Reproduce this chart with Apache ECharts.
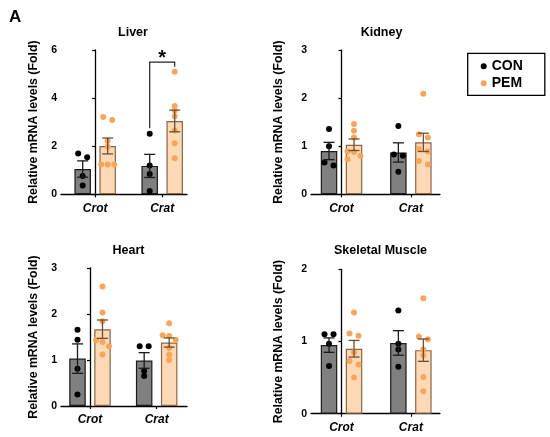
<!DOCTYPE html>
<html>
<head>
<meta charset="utf-8">
<script src="https://cdn.jsdelivr.net/npm/echarts@6/dist/echarts.min.js"></script>
<style>
  html, body { margin: 0; padding: 0; background: #fff; }
  #chart { width: 550px; height: 437px; }
</style>
</head>
<body>
<div id="chart"></div>
<script>
var genes = ['Crot', 'Crat'];
var tissues = ['Liver', 'Kidney', 'Heart', 'Skeletal Muscle'];
var groups = ['CON', 'PEM'];

// bar height (mean) and SEM per gene [Crot, Crat]
var liverConMean = [1.05, 1.18];
var liverConSem = [0.34, 0.48];
var liverPemMean = [2.01, 3.05];
var liverPemSem = [0.33, 0.45];
var kidneyConMean = [0.90, 0.87];
var kidneyConSem = [0.18, 0.20];
var kidneyPemMean = [1.03, 1.08];
var kidneyPemSem = [0.12, 0.19];
var heartConMean = [1.03, 0.99];
var heartConSem = [0.32, 0.17];
var heartPemMean = [1.67, 1.38];
var heartPemSem = [0.20, 0.10];
var muscleConMean = [0.95, 0.98];
var muscleConSem = [0.10, 0.17];
var musclePemMean = [0.90, 0.88];
var musclePemSem = [0.115, 0.155];

// individual animals per gene [Crot, Crat]
var liverCon = [[1.70, 1.54, 0.76, 0.37], [2.52, 1.20, 0.84, 0.14]];
var liverPem = [[3.21, 3.09, 2.22, 1.98, 1.24, 1.24, 1.24], [5.10, 3.67, 3.48, 3.25, 2.65, 2.12, 1.50]];
var kidneyCon = [[1.36, 1.00, 0.66, 0.60], [1.42, 0.83, 0.80, 0.47]];
var kidneyPem = [[1.46, 1.32, 1.18, 0.89, 0.88, 0.80, 0.73], [2.09, 1.25, 1.18, 0.94, 0.89, 0.69, 0.62]];
var heartCon = [[1.66, 1.44, 0.81, 0.25], [1.30, 1.30, 0.76, 0.65]];
var heartPem = [[2.60, 2.03, 1.84, 1.43, 1.39, 1.30, 1.12], [1.80, 1.54, 1.52, 1.44, 1.26, 1.12, 1.00]];
var muscleCon = [[1.10, 1.10, 0.97, 0.66], [1.43, 0.97, 0.89, 0.65]];
var musclePem = [[1.40, 1.11, 1.08, 0.85, 0.73, 0.68, 0.50], [1.60, 1.07, 1.03, 0.89, 0.81, 0.51, 0.31]];

// y axis ranges
var yMaxes = [6, 3, 3, 2];
var ySteps = [2, 1, 1, 1];

// significance bracket on liver Crat: [top, left foot, right foot]
var liverSig = [5.5, 2.75, 5.3];

var font = '"Liberation Sans", Arial, sans-serif';
var conColor = '#000000', pemColor = '#f7a65b';
var conFill = '#808080', pemFill = '#fdd9b5';
var conEdge = '#1a1a1a', pemEdge = '#8a6645';

var panelData = [
  { conMean: liverConMean, conSem: liverConSem, pemMean: liverPemMean, pemSem: liverPemSem, con: liverCon, pem: liverPem },
  { conMean: kidneyConMean, conSem: kidneyConSem, pemMean: kidneyPemMean, pemSem: kidneyPemSem, con: kidneyCon, pem: kidneyPem },
  { conMean: heartConMean, conSem: heartConSem, pemMean: heartPemMean, pemSem: heartPemSem, con: heartCon, pem: heartPem },
  { conMean: muscleConMean, conSem: muscleConSem, pemMean: musclePemMean, pemSem: musclePemSem, con: muscleCon, pem: musclePem }
];

// layout of each panel
var panels = [
  { grid: { left: 61, top: 50, width: 126, height: 144.3 }, xMin: -0.51, xMax: 1.37, nameGap: 21.5, title: [128, 21.5] },
  { grid: { left: 311, top: 50, width: 129, height: 144.3 }, xMin: -0.44, xMax: 1.42, nameGap: 26.5, title: [376.5, 21.5] },
  { grid: { left: 61, top: 268, width: 126, height: 138 }, xMin: -0.435, xMax: 1.455, nameGap: 21.5, title: [123.5, 239] },
  { grid: { left: 311, top: 269.3, width: 129, height: 144.4 }, xMin: -0.44, xMax: 1.42, nameGap: 26.5, title: [375.5, 239.5] }
];

var barWidth = 16.5, barGapPx = 8.5;
var halfPitch = (barWidth + barGapPx) / 2;

// Prism-like horizontal spread of dots that overlap vertically (pixel offsets)
function swarm(vals, pxPerUnit) {
  var order = vals.map(function (v, i) { return i; }).sort(function (a, b) { return vals[b] - vals[a]; });
  var offs = vals.map(function () { return 0; });
  var row = [order[0]];
  function flush() {
    if (row.length === 2) { offs[row[0]] = -4.5; offs[row[1]] = 4.5; }
    else if (row.length > 2) row.forEach(function (k, n) { offs[k] = [-6.5, 0, 6.5][n % 3]; });
    row = [];
  }
  for (var n = 1; n < order.length; n++) {
    if ((vals[order[n - 1]] - vals[order[n]]) * pxPerUnit >= 4.5) flush();
    row.push(order[n]);
  }
  flush();
  return offs;
}

function errRender(color) {
  return function (params, api) {
    var x = api.value(0), m = api.value(1), s = api.value(2);
    var top = api.coord([x, m + s]);
    var bot = api.coord([x, m - s]);
    var w = 5.5;
    var st = { stroke: color, lineWidth: 1.3 };
    return {
      type: 'group',
      children: [
        { type: 'line', shape: { x1: top[0], y1: top[1], x2: bot[0], y2: bot[1] }, style: st },
        { type: 'line', shape: { x1: top[0] - w, y1: top[1], x2: top[0] + w, y2: top[1] }, style: st },
        { type: 'line', shape: { x1: bot[0] - w, y1: bot[1], x2: bot[0] + w, y2: bot[1] }, style: st }
      ]
    };
  };
}

var grids = [], xAxes = [], yAxes = [], series = [];
var titles = [{ text: 'A', left: 4, top: 4, textStyle: { fontFamily: font, fontSize: 17, fontWeight: 'bold', color: '#000' } }];

panels.forEach(function (p, i) {
  var d = panelData[i];
  var unitPerPx = (p.xMax - p.xMin) / p.grid.width;
  var off = halfPitch * unitPerPx;
  var yPx = p.grid.height / yMaxes[i];

  grids.push(p.grid);
  titles.push({
    text: tissues[i], left: p.title[0], top: p.title[1], textAlign: 'center',
    textStyle: { fontFamily: font, fontSize: 12.5, fontWeight: 'bold', color: '#000' }
  });
  xAxes.push({
    type: 'value', gridIndex: i, min: p.xMin, max: p.xMax,
    axisLine: { show: true, lineStyle: { color: '#000', width: 1.3 } },
    axisTick: { show: true, customValues: [0, 1], length: 3, lineStyle: { color: '#000', width: 1.2 } },
    axisLabel: {
      customValues: [0, 1], margin: 8,
      formatter: function (v) { return genes[Math.round(v)]; },
      fontFamily: font, fontSize: 12, fontWeight: 'bold', fontStyle: 'italic', color: '#000'
    },
    splitLine: { show: false }
  });
  yAxes.push({
    type: 'value', gridIndex: i, min: 0, max: yMaxes[i], interval: ySteps[i],
    name: 'Relative mRNA levels (Fold)', nameLocation: 'middle', nameGap: p.nameGap,
    nameTextStyle: { fontFamily: font, fontSize: 12.3, fontWeight: 'bold', color: '#000' },
    axisLine: { show: true, lineStyle: { color: '#000', width: 1.3 } },
    axisTick: { show: true, length: 3, lineStyle: { color: '#000', width: 1.2 } },
    axisLabel: { margin: 4, fontFamily: font, fontSize: 10.5, fontWeight: 'bold', color: '#000' },
    splitLine: { show: false }
  });

  series.push({
    type: 'bar', name: 'CON bar', xAxisIndex: i, yAxisIndex: i, barWidth: barWidth,
    barGap: (barGapPx / barWidth * 100) + '%', z: 2, legendHoverLink: false,
    itemStyle: { color: conFill, borderColor: conEdge, borderWidth: 1.2 },
    data: genes.map(function (g, j) { return [j, d.conMean[j]]; })
  });
  series.push({
    type: 'bar', name: 'PEM bar', xAxisIndex: i, yAxisIndex: i, barWidth: barWidth,
    barGap: (barGapPx / barWidth * 100) + '%', z: 2, legendHoverLink: false,
    itemStyle: { color: pemFill, borderColor: pemEdge, borderWidth: 1.2 },
    data: genes.map(function (g, j) { return [j, d.pemMean[j]]; })
  });

  [['CON', d.con, -off, conColor], ['PEM', d.pem, off, pemColor]].forEach(function (g) {
    var pts = [];
    g[1].forEach(function (vals, j) {
      var jit = swarm(vals, yPx);
      vals.forEach(function (v, k) { pts.push([j + g[2] + jit[k] * unitPerPx, v]); });
    });
    series.push({
      type: 'scatter', name: g[0], xAxisIndex: i, yAxisIndex: i, z: 3,
      symbol: 'circle', symbolSize: 6, itemStyle: { color: g[3], opacity: 1 },
      data: pts
    });
  });

  series.push({
    type: 'custom', xAxisIndex: i, yAxisIndex: i, z: 4, renderItem: errRender(conEdge),
    encode: { x: 0, y: 1 },
    data: genes.map(function (g, j) { return [j - off, d.conMean[j], d.conSem[j]]; })
  });
  series.push({
    type: 'custom', xAxisIndex: i, yAxisIndex: i, z: 4, renderItem: errRender('#6e4f32'),
    encode: { x: 0, y: 1 },
    data: genes.map(function (g, j) { return [j + off, d.pemMean[j], d.pemSem[j]]; })
  });

  if (i === 0) {
    series.push({
      type: 'custom', xAxisIndex: 0, yAxisIndex: 0, z: 5,
      encode: { x: 0, y: 2 },
      renderItem: function (params, api) {
        var x1 = api.value(0), x2 = api.value(1);
        var a = api.coord([x1, api.value(3)]);
        var b = api.coord([x1, api.value(2)]);
        var c = api.coord([x2, api.value(2)]);
        var e = api.coord([x2, api.value(4)]);
        return {
          type: 'group',
          children: [
            { type: 'polyline', shape: { points: [a, b, c, e] }, style: { stroke: '#222', lineWidth: 1.2, fill: null } },
            {
              type: 'text', x: (b[0] + c[0]) / 2, y: b[1] - 4,
              style: { text: '*', fontFamily: font, fontSize: 20, fontWeight: 'bold', fill: '#000', align: 'center', verticalAlign: 'middle' }
            }
          ]
        };
      },
      data: [[1 - off, 1 + off, liverSig[0], liverSig[1], liverSig[2]]]
    });
  }
});

var myChart = echarts.init(document.getElementById('chart'));
myChart.setOption({
  animation: false,
  title: titles,
  legend: {
    data: groups, orient: 'vertical', left: 467.7, top: 53.3,
    padding: [6, 22, 5, 13], itemGap: 3, itemWidth: 6, itemHeight: 6, icon: 'circle',
    borderColor: '#000', borderWidth: 1.3, selectedMode: false,
    textStyle: { fontFamily: font, fontSize: 14, fontWeight: 'bold', color: '#000' }
  },
  grid: grids,
  xAxis: xAxes,
  yAxis: yAxes,
  series: series
});
</script>
</body>
</html>
